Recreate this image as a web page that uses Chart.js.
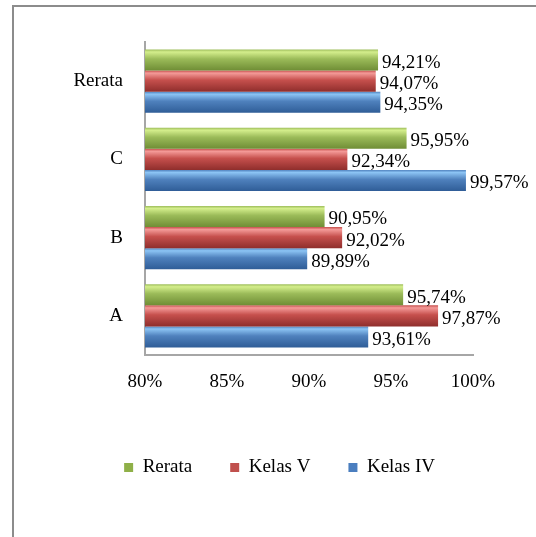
<!DOCTYPE html>
<html>
<head>
<meta charset="utf-8">
<script src="https://cdn.jsdelivr.net/npm/chart.js@4/dist/chart.umd.min.js"></script>
<style>
  html, body { margin: 0; padding: 0; background: #fff; overflow: hidden; }
  #frame { position: absolute; left: 12px; top: 5px; width: 700px; height: 700px;
           border-top: 2px solid #8c8c8c; border-left: 2px solid #8c8c8c; }
  #wrap { position: absolute; left: 0; top: 0; width: 536px; height: 537px; }
</style>
</head>
<body>
<div id="frame"></div>
<div id="wrap"><canvas id="c" width="536" height="537"></canvas></div>
<script>
// ---- data ----
const categories = ["Rerata", "C", "B", "A"];
const rerataValues = [94.21, 95.95, 90.95, 95.74];
const kelasVValues = [94.07, 92.34, 92.02, 97.87];
const kelasIVValues = [94.35, 99.57, 89.89, 93.61];
const seriesNames = ["Rerata", "Kelas V", "Kelas IV"];
const tickValues = [80, 85, 90, 95, 100];

const FONT = "'Liberation Serif', 'Times New Roman', serif";
const FS = 19;
const CAT_PCT = 0.81;

const palettes = [
  { light: "#d4ee8c", base: "#9bbb59", dark: "#6f8d35", legend: "#8fb048" },
  { light: "#f49a98", base: "#c6504d", dark: "#8f2e2c", legend: "#c0504d" },
  { light: "#8cc4f4", base: "#4f81bd", dark: "#2f5d97", legend: "#4a7ebf" }
];

function barFill(pal) {
  return function (ctx) {
    const chart = ctx.chart;
    const ys = chart.scales && chart.scales.y;
    if (ctx.type !== "data" || !ys || ys.top === undefined || !isFinite(ys.getPixelForValue(ctx.dataIndex))) return pal.base;
    const n = categories.length;
    const catSpace = (ys.bottom - ys.top) / n * CAT_PCT;
    const thick = catSpace / 3;
    const top = ys.getPixelForValue(ctx.dataIndex) - catSpace / 2 + ctx.datasetIndex * thick;
    const g = chart.ctx.createLinearGradient(0, top, 0, top + thick);
    g.addColorStop(0, pal.base);
    g.addColorStop(0.12, pal.light);
    g.addColorStop(0.45, pal.base);
    g.addColorStop(1, pal.dark);
    return g;
  };
}

const valueLabels = {
  id: "valueLabels",
  afterDatasetsDraw(chart) {
    const ctx = chart.ctx;
    ctx.save();
    ctx.font = FS + "px " + FONT;
    ctx.fillStyle = "#000";
    ctx.textAlign = "left";
    ctx.textBaseline = "middle";
    chart.data.datasets.forEach((ds, di) => {
      const meta = chart.getDatasetMeta(di);
      meta.data.forEach((el, i) => {
        const v = ds.data[i];
        const txt = v.toFixed(2).replace(".", ",") + "%";
        ctx.fillText(txt, el.x + 4, el.y + 3);
      });
    });
    ctx.restore();
  }
};

const datasets = [rerataValues, kelasVValues, kelasIVValues].map((vals, i) => ({
  label: seriesNames[i],
  data: vals,
  backgroundColor: barFill(palettes[i]),
  borderWidth: 0,
  categoryPercentage: CAT_PCT,
  barPercentage: 1.0
}));

new Chart(document.getElementById("c"), {
  type: "bar",
  data: { labels: categories, datasets },
  options: {
    indexAxis: "y",
    responsive: false,
    animation: false,
    layout: { padding: { left: 0, right: 63, top: 42, bottom: 50 } },
    scales: {
      x: {
        min: 80, max: 100,
        afterBuildTicks(scale) { scale.ticks = tickValues.map(v => ({ value: v })); },
        afterFit(scale) { scale.height = 65; },
        grid: { display: false, drawTicks: false },
        border: { display: true, color: "#a6a6a6", width: 2 },
        ticks: {
          padding: 16,
          color: "#000",
          font: { family: FONT, size: FS },
          callback: v => v + "%"
        }
      },
      y: {
        afterFit(scale) { scale.width = 145; },
        grid: { display: false, drawTicks: false },
        border: { display: true, color: "#a6a6a6", width: 2 },
        ticks: {
          padding: 22,
          color: "#000",
          font: { family: FONT, size: FS }
        }
      }
    },
    plugins: {
      tooltip: { enabled: false },
      legend: {
        position: "bottom",
        align: "end",
        labels: {
          color: "#000",
          font: { family: FONT, size: FS },
          boxWidth: 9,
          boxHeight: 9,
          padding: 38,
          generateLabels(chart) {
            return chart.data.datasets.map((ds, i) => ({
              text: ds.label,
              fillStyle: palettes[i].legend,
              strokeStyle: palettes[i].legend,
              lineWidth: 0,
              hidden: false,
              datasetIndex: i,
              fontColor: "#000"
            }));
          }
        }
      }
    }
  },
  plugins: [valueLabels]
});
</script>
</body>
</html>
